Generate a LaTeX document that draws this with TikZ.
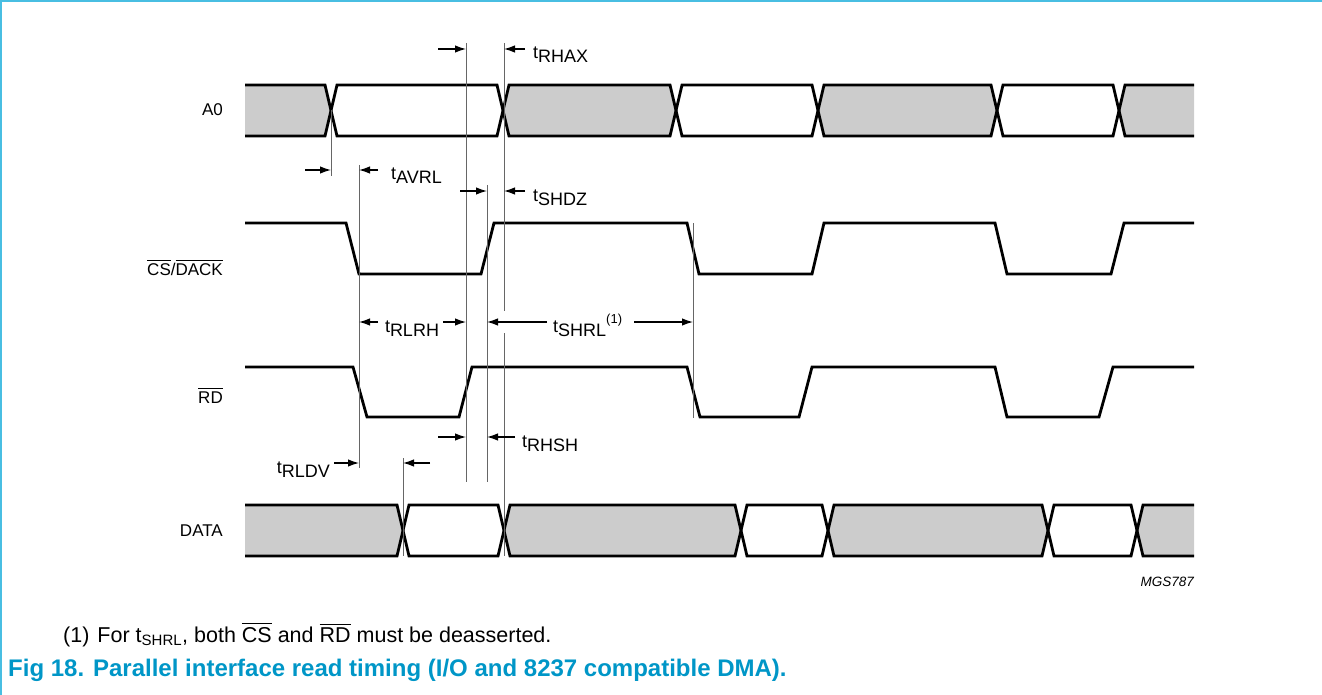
\documentclass[tikz,border=0pt]{standalone}
\usepackage{fontspec}
\setmainfont{Liberation Sans}
\usetikzlibrary{arrows.meta}
\definecolor{busgray}{HTML}{CCCCCC}
\definecolor{framecyan}{RGB}{72,190,226}
\definecolor{capblue}{RGB}{0,150,199}
\newcommand{\ovl}[1]{\vbox{\hrule height 1.1pt\kern 2.5pt\hbox{#1}}}
\newcommand{\tsub}[1]{t\raisebox{-4pt}{#1}}
\tikzset{
  sig/.style={line width=2.8pt, line join=miter},
  guide/.style={line width=1pt, draw=black!60},
  tarr/.style={line width=1.2pt, -{Latex[length=11pt,width=7.5pt]}},
  siglabel/.style={anchor=base east, inner sep=0pt, font=\fontsize{17}{20}\selectfont},
  tlabel/.style={anchor=base west, inner sep=0pt, font=\fontsize{18}{21}\selectfont},
}
\begin{document}
\begin{tikzpicture}[x=1pt,y=-1pt]
  \useasboundingbox (0,0) rectangle (1322,695);
  % frame
  \draw[framecyan, line width=2pt] (0,1) -- (1322,1);
  \draw[framecyan, line width=2pt] (1,0) -- (1,695);

  % signal names
  \node[siglabel] (nA0) at (223,116) {A0};
  \node[siglabel] (nCS) at (223,275) {\ovl{CS}/\ovl{DACK}};
  \node[siglabel] (nRD) at (223,403) {\ovl{RD}};
  \node[siglabel] (nDATA) at (223,536.5) {DATA};

  % A0 bus
  \fill[busgray] (245,85) -- (325,85) -- (331,110.5) -- (325,136) -- (245,136) -- cycle;
  \foreach \a/\b in {503/676, 818/997}
    \fill[busgray] (\a,110.5) -- (\a+6,85) -- (\b-6,85) -- (\b,110.5) -- (\b-6,136) -- (\a+6,136) -- cycle;
  \fill[busgray] (1119,110.5) -- (1125,85) -- (1194,85) -- (1194,136) -- (1125,136) -- cycle;
  \draw[sig] (245,85) -- (325,85) -- (337,136) -- (497,136) -- (509,85) -- (670,85) -- (682,136) -- (812,136)
    -- (824,85) -- (991,85) -- (1003,136) -- (1113,136) -- (1125,85) -- (1194,85);
  \draw[sig] (245,136) -- (325,136) -- (337,85) -- (497,85) -- (509,136) -- (670,136) -- (682,85) -- (812,85)
    -- (824,136) -- (991,136) -- (1003,85) -- (1113,85) -- (1125,136) -- (1194,136);

  % CS/DACK and RD
  \draw[sig] (245,223) -- (346,223) -- (359,274) -- (481,274) -- (494,223) -- (687,223) -- (699,274) -- (812,274)
    -- (824,223) -- (995,223) -- (1007,274) -- (1111,274) -- (1124,223) -- (1194,223);
  \draw[sig] (245,367) -- (353,367) -- (367,417) -- (459,417) -- (472,367) -- (687,367) -- (700,417) -- (799,417)
    -- (812,367) -- (995,367) -- (1007,417) -- (1099,417) -- (1113,367) -- (1194,367);

  % DATA bus
  \fill[busgray] (245,505) -- (397,505) -- (403,530.5) -- (397,556) -- (245,556) -- cycle;
  \foreach \a/\b in {504/741, 828/1048}
    \fill[busgray] (\a,530.5) -- (\a+6,505) -- (\b-6,505) -- (\b,530.5) -- (\b-6,556) -- (\a+6,556) -- cycle;
  \fill[busgray] (1137,530.5) -- (1143,505) -- (1194,505) -- (1194,556) -- (1143,556) -- cycle;
  \draw[sig] (245,505) -- (397,505) -- (409,556) -- (498,556) -- (510,505) -- (735,505) -- (747,556) -- (822,556)
    -- (834,505) -- (1042,505) -- (1054,556) -- (1131,556) -- (1143,505) -- (1194,505);
  \draw[sig] (245,556) -- (397,556) -- (409,505) -- (498,505) -- (510,556) -- (735,556) -- (747,505) -- (822,505)
    -- (834,556) -- (1042,556) -- (1054,505) -- (1131,505) -- (1143,556) -- (1194,556);

  % reference lines
  \coordinate (g1a) at (331,110.5); \coordinate (g1b) at (331,176);
  \coordinate (g2a) at (359,165);   \coordinate (g2b) at (359,468);
  \coordinate (g3a) at (466,43);    \coordinate (g3b) at (466,482);
  \coordinate (g4a) at (487,185);   \coordinate (g4b) at (487,482);
  \coordinate (g5a) at (504,43);    \coordinate (g5b) at (504,556);
  \coordinate (g5c) at (504,311);   \coordinate (g5d) at (504,333);
  \coordinate (g6a) at (693,223);   \coordinate (g6b) at (693,418);
  \coordinate (g7a) at (403,458);   \coordinate (g7b) at (403,556);
  \draw[guide] (g1a) -- (g1b);
  \draw[guide] (g2a) -- (g2b);
  \draw[guide] (g3a) -- (g3b);
  \draw[guide] (g4a) -- (g4b);
  \draw[guide] (g5a) -- (g5c);
  \draw[guide] (g5d) -- (g5b);
  \draw[guide] (g6a) -- (g6b);
  \draw[guide] (g7a) -- (g7b);

  % timing arrows
  \coordinate (a1) at (438,49);  \coordinate (a2) at (525,49);
  \coordinate (a3) at (305,170); \coordinate (a4) at (378,170);
  \coordinate (a5) at (460,191); \coordinate (a6) at (525,191);
  \coordinate (a7) at (378,322); \coordinate (a8) at (443,322);
  \coordinate (a9) at (547,322); \coordinate (a10) at (634,322);
  \coordinate (a11) at (438,437); \coordinate (a12) at (515,437);
  \coordinate (a13) at (334,463); \coordinate (a14) at (430,463);
  \draw[tarr] (a1) -- (a1 -| g3a);
  \draw[tarr] (a2) -- (a2 -| g5a);
  \draw[tarr] (a3) -- (a3 -| g1a);
  \draw[tarr] (a4) -- (a4 -| g2a);
  \draw[tarr] (a5) -- (a5 -| g4a);
  \draw[tarr] (a6) -- (a6 -| g5a);
  \draw[tarr] (a7) -- (a7 -| g2a);
  \draw[tarr] (a8) -- (a8 -| g3a);
  \draw[tarr] (a9) -- (a9 -| g4a);
  \draw[tarr] (a10) -- (a10 -| g6a);
  \draw[tarr] (a11) -- (a11 -| g3a);
  \draw[tarr] (a12) -- (a12 -| g4a);
  \draw[tarr] (a13) -- (a13 -| g2a);
  \draw[tarr] (a14) -- (a14 -| g7a);

  % timing labels
  \node[tlabel] (tRHAX) at (533,59) {\tsub{RHAX}};
  \node[tlabel] (tAVRL) at (391,180) {\tsub{AVRL}};
  \node[tlabel] (tSHDZ) at (533,201) {\tsub{SHDZ}};
  \node[tlabel, anchor=base] (tRLRH) at (412,332) {\tsub{RLRH}};
  \node[tlabel] (tSHRL) at (553,332) {\tsub{SHRL}\raisebox{9pt}{\fontsize{13}{15}\selectfont(1)}};
  \node[tlabel] (tRHSH) at (522,447) {\tsub{RHSH}};
  \node[tlabel, anchor=base east] (tRLDV) at (330,473) {\tsub{RLDV}};

  % drawing number, note, caption
  \node[anchor=east, inner sep=0pt, font=\fontsize{13.5}{16}\selectfont\itshape] (mgs) at (1194,582) {MGS787};
  \node[anchor=base west, inner sep=0pt, font=\fontsize{21.5}{24}\selectfont] (note) at (63,642)
    {(1)\hspace{8pt}For t$_{\mbox{\fontsize{15}{17}\selectfont SHRL}}$, both \ovl{CS} and \ovl{RD} must be deasserted.};
  \node[anchor=base west, inner sep=0pt, font=\fontsize{24}{27}\selectfont\bfseries, text=capblue] (cap) at (8,676)
    {Fig 18. Parallel interface read timing (I/O and 8237 compatible DMA).};
\end{tikzpicture}
\end{document}
